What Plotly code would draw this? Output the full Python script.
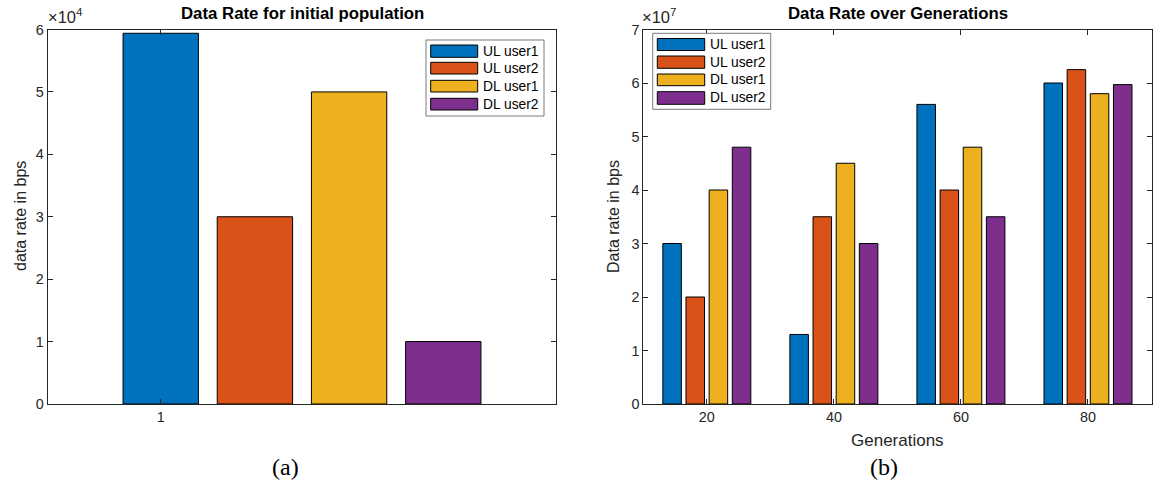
import plotly.graph_objects as go

W, H = 1153, 486

# ---------------- data ----------------
series_names = ["UL user1", "UL user2", "DL user1", "DL user2"]
series_colors = ["#0072BD", "#D95319", "#EDB120", "#7E2F8E"]

# panel (a): initial population
init_positions = [1, 2, 3, 4]
init_rates = [5.94e4, 3.0e4, 5.0e4, 1.0e4]
init_xtick_vals = [1]
init_xtick_text = ["1"]
init_ytick_text = ["0", "1", "2", "3", "4", "5", "6"]
init_scale = 1e4

# panel (b): over generations
generations = [20, 40, 60, 80]
ul_user1 = [3.0e7, 1.3e7, 5.6e7, 6.0e7]
ul_user2 = [2.0e7, 3.5e7, 4.0e7, 6.25e7]
dl_user1 = [4.0e7, 4.5e7, 4.8e7, 5.8e7]
dl_user2 = [4.8e7, 3.0e7, 3.5e7, 5.97e7]
gen_series = [ul_user1, ul_user2, dl_user1, dl_user2]
gen_ytick_text = ["0", "1", "2", "3", "4", "5", "6", "7"]
gen_scale = 1e7

# ---------------- helpers ----------------
def px(x):
    return x / W

def py(y):
    return 1 - y / H

SANS = "Liberation Sans, Arial, Helvetica, sans-serif"
SERIF = "Liberation Serif, Times New Roman, serif"
AX = "#262626"

fig = go.Figure()

for name, color, pos, val in zip(series_names, series_colors, init_positions, init_rates):
    fig.add_trace(go.Bar(
        x=[pos], y=[val], name=name, width=0.8, offset=-0.4,
        marker=dict(color=color, line=dict(color="#000000", width=1)),
        xaxis="x", yaxis="y", showlegend=False,
    ))

for name, color, vals in zip(series_names, series_colors, gen_series):
    fig.add_trace(go.Bar(
        x=generations, y=vals, name=name,
        marker=dict(color=color, line=dict(color="#000000", width=1)),
        xaxis="x2", yaxis="y2", showlegend=False,
    ))

axis_common = dict(
    showline=True, linecolor=AX, linewidth=1, mirror="ticks",
    ticks="inside", ticklen=5, tickcolor=AX, tickwidth=1,
    showgrid=False, zeroline=False, automargin=False,
    tickfont=dict(family=SANS, size=14.4, color=AX),
)

y_bottom, y_top = py(404), py(29.5)

fig.update_layout(
    width=W, height=H, autosize=False,
    margin=dict(l=0, r=0, t=0, b=0, pad=0),
    paper_bgcolor="white", plot_bgcolor="white",
    barmode="group", bargap=0.271, bargroupgap=0.2,
    xaxis=dict(domain=[px(47.7), px(556.3)], range=[-0.2, 5.2],
               tickvals=init_xtick_vals, ticktext=init_xtick_text,
               anchor="y", **axis_common),
    yaxis=dict(domain=[y_bottom, y_top], range=[0, 6 * init_scale],
               tickvals=[i * init_scale for i in range(len(init_ytick_text))],
               ticktext=init_ytick_text, anchor="x", **axis_common),
    xaxis2=dict(domain=[px(643.3), px(1151.5)], range=[10, 90],
                tickvals=generations, ticktext=[str(g) for g in generations],
                anchor="y2", **axis_common),
    yaxis2=dict(domain=[y_bottom, y_top], range=[0, 7 * gen_scale],
                tickvals=[i * gen_scale for i in range(len(gen_ytick_text))],
                ticktext=gen_ytick_text, anchor="x2", **axis_common),
)

ann = []
def text(x, y, s, size, family=SANS, color=AX, xanchor="center", yanchor="middle", angle=0):
    ann.append(dict(x=px(x), y=py(y), xref="paper", yref="paper", text=s,
                    showarrow=False, xanchor=xanchor, yanchor=yanchor, textangle=angle,
                    font=dict(family=family, size=size, color=color)))

# titles
text(302, 14, "<b>Data Rate for initial population</b>", 16.8, color="#000000")
text(897.5, 14, "<b>Data Rate over Generations</b>", 16.8, color="#000000")
# exponent labels
text(46, 28, "×10<sup>4</sup>", 16.5, xanchor="left", yanchor="bottom")
text(640, 28, "×10<sup>7</sup>", 16.5, xanchor="left", yanchor="bottom")
# axis titles
text(20, 216, "data rate in bps", 16, angle=-90)
text(613, 216, "Data rate in bps", 16, angle=-90)
text(897.5, 440, "Generations", 17)
# captions
text(285, 467, "(a)", 24, family=SERIF, color="#000000")
text(884, 467, "(b)", 24, family=SERIF, color="#000000")

shapes = []
def legend(box, sw_x0, sw_x1, rows, tx):
    x0, y0, x1, y1 = box
    shapes.append(dict(type="rect", xref="paper", yref="paper", layer="above",
                       x0=px(x0), x1=px(x1), y0=py(y1), y1=py(y0),
                       line=dict(color="#7a7a7a", width=1), fillcolor="white"))
    for (ry0, ry1), name, color in zip(rows, series_names, series_colors):
        shapes.append(dict(type="rect", xref="paper", yref="paper", layer="above",
                           x0=px(sw_x0), x1=px(sw_x1), y0=py(ry1), y1=py(ry0),
                           line=dict(color="#000000", width=1), fillcolor=color))
        text(tx, (ry0 + ry1) / 2, name, 13.8, color="#000000", xanchor="left")

legend((426, 40, 544, 116), 430.7, 477.7,
       [(45, 57.3), (62.3, 74), (80.3, 92), (98.3, 110)], 481)
legend((652.7, 33.3, 770.7, 109.3), 657.3, 704.7,
       [(38.5, 50.5), (56, 68.3), (74, 85.7), (91.7, 104.3)], 708)

fig.update_layout(annotations=ann, shapes=shapes)

post = (
    "document.body.style.margin='0';"
    "document.body.style.overflow='hidden';"
    "var d=document.getElementById('{plot_id}');"
    "d.style.position='fixed';d.style.left='0px';d.style.top='0px';"
)

fig.write_html("out.html", config={"displayModeBar": False}, post_script=post)
